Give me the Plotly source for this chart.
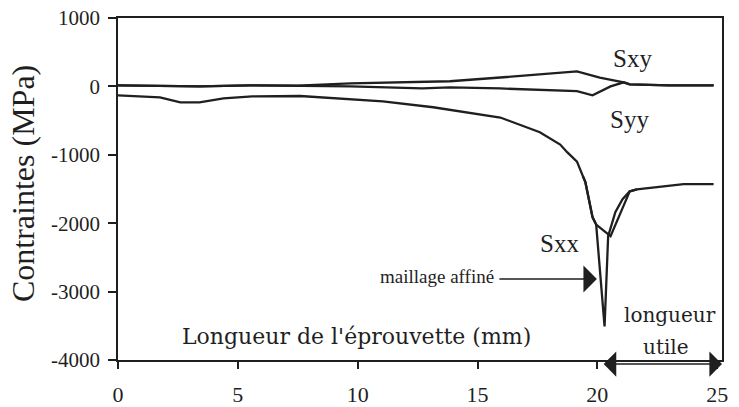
import plotly.graph_objects as go

# Position along the specimen (mm) and stresses (MPa)
x_sxx = [0, 1.75, 2.6, 3.4, 4.4, 5.6, 7.6, 9.3, 11.05, 13.15, 14.55, 15.95, 17.6,
         18.45, 18.75, 19.15, 19.4, 19.5, 19.8, 19.95, 20.55, 21.35, 21.65, 23.6, 24.85]
sxx = [-130, -160, -235, -235, -175, -145, -140, -175, -220, -305, -380, -455, -670,
       -850, -965, -1100, -1315, -1400, -1915, -2020, -2190, -1535, -1505, -1430, -1430]

# Refined mesh around the notch
x_sxx_fin = [19.4, 19.5, 19.8, 19.95, 20.3, 20.45, 20.75, 21.05, 21.35, 21.65]
sxx_fin = [-1315, -1400, -1915, -2020, -3510, -2190, -1840, -1650, -1535, -1505]

x_sxy = [0, 1.5, 3.4, 5.5, 7.5, 9.7, 12.7, 13.85, 15.95, 17.5, 19.15, 20.1, 21.1, 21.35, 23, 24.85]
sxy = [15, 10, 0, 15, 10, 45, 60, 75, 130, 170, 220, 130, 60, 30, 15, 15]

x_syy = [0, 1.5, 3.4, 5.5, 7.5, 9.7, 12.7, 13.85, 15.95, 17.5, 19.15, 19.8, 20.55, 21.1, 21.35, 23, 24.85]
syy = [15, 10, 0, 15, 10, 0, -30, -15, -30, -45, -70, -130, 0, 60, 30, 15, 15]

x_ticks = [0, 5, 10, 15, 20, 25]
y_ticks = [1000, 0, -1000, -2000, -3000, -4000]
y_ticktext = ["1000", "0", "-1000", "-2000", "-3000", "-4000"]

ink = "#1f1f1f"
serif = "Liberation Serif, Times New Roman, Times, serif"
wide_serif = "DejaVu Serif, serif"

fig = go.Figure()
line = dict(color=ink, width=2.3)
fig.add_trace(go.Scatter(x=x_sxx, y=sxx, mode="lines", line=line, name="Sxx"))
fig.add_trace(go.Scatter(x=x_sxx_fin, y=sxx_fin, mode="lines", line=line, name="Sxx affiné"))
fig.add_trace(go.Scatter(x=x_sxy, y=sxy, mode="lines", line=line, name="Sxy"))
fig.add_trace(go.Scatter(x=x_syy, y=syy, mode="lines", line=line, name="Syy"))

comp = dict(family=serif, color=ink, size=25)
annotations = [
    dict(x=21.45, y=410, text="Sxy", showarrow=False, font=comp),
    dict(x=21.35, y=-480, text="Syy", showarrow=False, font=comp),
    dict(x=18.44, y=-2300, text="Sxx", showarrow=False, font=comp),
    dict(x=13.3, y=-2780, text="maillage affiné", showarrow=False, font=dict(family=serif, color=ink, size=19)),
    dict(x=19.98, y=-2815, ax=15.85, ay=-2815, axref="x", ayref="y", text="", showarrow=True,
         arrowhead=1, arrowsize=3.2, arrowwidth=1.4, arrowcolor=ink),
    dict(x=23.05, y=-3340, text="longueur", showarrow=False, font=dict(family=wide_serif, color=ink, size=20)),
    dict(x=22.86, y=-3810, text="utile", showarrow=False, font=dict(family=wide_serif, color=ink, size=20)),
    dict(x=9.97, y=-3650, text="Longueur de l'éprouvette (mm)", showarrow=False,
         font=dict(family=wide_serif, color=ink, size=22)),
    # "longueur utile" span below the axis
    dict(x=25.2, y=-0.012, ax=20.2, ay=0, xref="x", yref="paper", axref="x", ayref="pixel",
         text="", showarrow=True, arrowside="end+start", arrowhead=1, arrowsize=2.8, arrowwidth=1.5,
         arrowcolor=ink),
    dict(x=-0.157, y=0.515, xref="paper", yref="paper", xanchor="center", yanchor="middle",
         text="Contraintes (MPa)", textangle=-90,
         showarrow=False, font=dict(family=serif, color=ink, size=32)),
]

fig.update_layout(
    width=739, height=407,
    margin=dict(l=118, r=17, t=18, b=47, autoexpand=False),
    plot_bgcolor="white", paper_bgcolor="white",
    showlegend=False,
    annotations=annotations,
    font=dict(family=serif, color=ink),
)
fig.update_xaxes(range=[0, 25.2], tickvals=x_ticks, ticks="outside", ticklen=7, tickwidth=1.5,
                 tickcolor=ink, showline=True, linecolor=ink, linewidth=1.5, mirror=True,
                 ticklabelstandoff=7, automargin=False,
                 showgrid=False, zeroline=False, tickfont=dict(family=serif, size=22, color=ink))
fig.update_yaxes(range=[-4000, 1000], tickvals=y_ticks, ticktext=y_ticktext, ticks="outside",
                 ticklen=8, tickwidth=1.5, ticklabelstandoff=4, automargin=False,
                 tickcolor=ink, showline=True, linecolor=ink, linewidth=1.5, mirror=True,
                 showgrid=False, zeroline=False, tickfont=dict(family=serif, size=21, color=ink))

fig.write_html("out.html")
